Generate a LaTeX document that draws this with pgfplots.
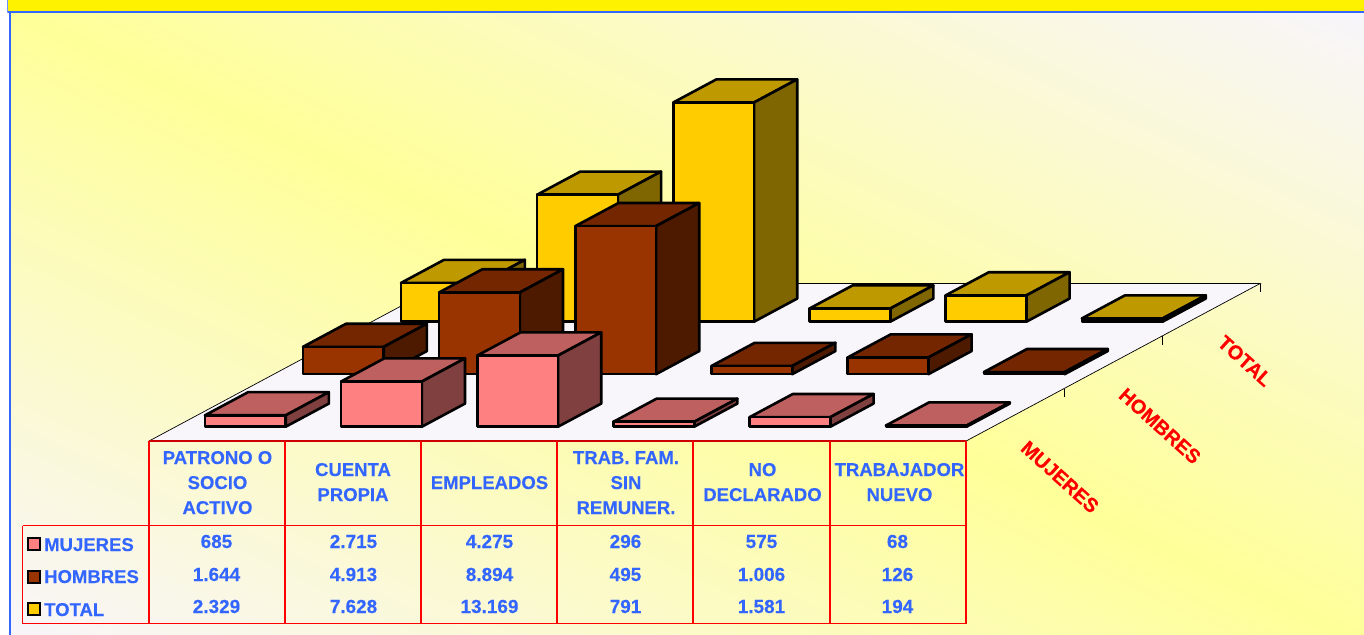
\documentclass[border=0pt]{standalone}
\usepackage{fontspec}
\setmainfont[BoldFeatures={FakeBold=0.25}]{Liberation Sans}
\usepackage{pgfplots}
\pgfplotsset{compat=1.18}
\definecolor{lav}{HTML}{F8F5FB}
\definecolor{pal}{HTML}{FFFF99}
\definecolor{tblue}{HTML}{3366FF}
\definecolor{mF}{HTML}{FF8080}\definecolor{mT}{HTML}{BF6060}\definecolor{mS}{HTML}{804040}
\definecolor{hF}{HTML}{993300}\definecolor{hT}{HTML}{732600}\definecolor{hS}{HTML}{4D1A00}
\definecolor{tF}{HTML}{FFCC00}\definecolor{tT}{HTML}{BF9900}\definecolor{tS}{HTML}{806600}
% \threedbar{x0}{x1}{y0}{y1}{value}{front}{top}{side}
\newcommand{\threedbar}[8]{%
  \addplot3[draw=black,line width=2.6bp,line join=round,fill=#7] coordinates {(#1,#3,#5) (#2,#3,#5) (#2,#4,#5) (#1,#4,#5)} --cycle;
  \addplot3[draw=black,line width=2.6bp,line join=round,fill=#8] coordinates {(#2,#3,0) (#2,#4,0) (#2,#4,#5) (#2,#3,#5)} --cycle;
  \addplot3[draw=black,line width=2.6bp,line join=round,fill=#6] coordinates {(#1,#3,0) (#2,#3,0) (#2,#3,#5) (#1,#3,#5)} --cycle;
}
\begin{document}
\begin{tikzpicture}[x=1bp,y=-1bp]
\useasboundingbox (0,0) rectangle (1364,635);
\fill[white] (0,0) rectangle (1364,635);
\begin{scope}
\clip (11,13) rectangle (1364,635);
\shade[bottom color=lav,top color=lav,middle color=pal,transform canvas={rotate around={-25:(682,324)}}] (-400,-246) rectangle (1764,894);
\end{scope}
\fill[yellow] (8,0) rectangle (1364,11);
\fill[tblue] (7,11) rectangle (1364,13.5);
\fill[tblue] (8.7,13) rectangle (11,635);
\fill[tblue!70] (7,0) rectangle (8,13);

\begin{axis}[at={(149.1bp,-441bp)},anchor=origin,
  x={(136.17bp,0bp)},y={(98bp,52.5bp)},z={(0bp,0.01665bp)},
  xmin=0,xmax=6,ymin=0,ymax=3,zmin=0,zmax=14000,
  hide axis,clip=false]
% floor
\addplot3[draw=black,line width=0.7bp,fill=lav] coordinates {(0,0,0) (6,0,0) (6,3,0) (0,3,0)} --cycle;
% ticks on the right edge
\addplot3[draw=black,line width=0.7bp] coordinates {(6,1,0) (6,1,-540)};
\addplot3[draw=black,line width=0.7bp] coordinates {(6,2,0) (6,2,-540)};
\addplot3[draw=black,line width=0.7bp] coordinates {(6,3,0) (6,3,-540)};
% TOTAL row
\threedbar{0.214}{0.807}{2.273}{2.713}{2329}{tF}{tT}{tS}
\threedbar{1.214}{1.807}{2.273}{2.713}{7628}{tF}{tT}{tS}
\threedbar{2.214}{2.807}{2.273}{2.713}{13169}{tF}{tT}{tS}
\threedbar{3.214}{3.807}{2.273}{2.713}{791}{tF}{tT}{tS}
\threedbar{4.214}{4.807}{2.273}{2.713}{1581}{tF}{tT}{tS}
\threedbar{5.214}{5.807}{2.273}{2.713}{194}{tF}{tT}{tS}
% HOMBRES row
\threedbar{0.214}{0.807}{1.273}{1.713}{1644}{hF}{hT}{hS}
\threedbar{1.214}{1.807}{1.273}{1.713}{4913}{hF}{hT}{hS}
\threedbar{2.214}{2.807}{1.273}{1.713}{8894}{hF}{hT}{hS}
\threedbar{3.214}{3.807}{1.273}{1.713}{495}{hF}{hT}{hS}
\threedbar{4.214}{4.807}{1.273}{1.713}{1006}{hF}{hT}{hS}
\threedbar{5.214}{5.807}{1.273}{1.713}{126}{hF}{hT}{hS}
% MUJERES row
\threedbar{0.214}{0.807}{0.273}{0.713}{685}{mF}{mT}{mS}
\threedbar{1.214}{1.807}{0.273}{0.713}{2715}{mF}{mT}{mS}
\threedbar{2.214}{2.807}{0.273}{0.713}{4275}{mF}{mT}{mS}
\threedbar{3.214}{3.807}{0.273}{0.713}{296}{mF}{mT}{mS}
\threedbar{4.214}{4.807}{0.273}{0.713}{575}{mF}{mT}{mS}
\threedbar{5.214}{5.807}{0.273}{0.713}{68}{mF}{mT}{mS}
\end{axis}

% data table
\draw[red!80!black,line width=1.2bp] (149,441) -- (966,441);
\draw[red,line width=1.1bp] (22.5,525.5) -- (966,525.5);
\draw[red,line width=1.1bp] (22.5,623.5) -- (966,623.5);
\draw[red,line width=1.1bp] (22.5,525.5) -- (22.5,623.5);
\foreach \x in {149,285,421,557,693,830,966}
  \draw[red,line width=1.1bp] (\x,441) -- (\x,623.5);

\tikzset{hd/.style={anchor=base,inner sep=0pt,text=tblue,font=\fontsize{18.6}{22}\selectfont\bfseries},
         dv/.style={anchor=base,inner sep=0pt,text=tblue,font=\fontsize{19}{22}\selectfont\bfseries},
         rl/.style={anchor=base west,inner sep=0pt,text=tblue,font=\fontsize{18.6}{22}\selectfont\bfseries},
         ax/.style={anchor=center,inner sep=0pt,text=red,rotate=-42,font=\fontsize{20}{22}\selectfont\bfseries}}
\node[hd] at (217.5,464) {PATRONO O};
\node[hd] at (217.5,489) {SOCIO};
\node[hd] at (217.5,514) {ACTIVO};
\node[hd] at (353,476) {CUENTA};
\node[hd] at (353,501) {PROPIA};
\node[hd] at (489.5,489) {EMPLEADOS};
\node[hd] at (626,464) {TRAB. FAM.};
\node[hd] at (626,489) {SIN};
\node[hd] at (626,514) {REMUNER.};
\node[hd] at (762.5,476) {NO};
\node[hd] at (762.5,501) {DECLARADO};
\node[hd] at (899.5,476) {TRABAJADOR};
\node[hd] at (899.5,501) {NUEVO};

\foreach \x/\a/\b/\c in {216.5/685/1.644/2.329,353.5/2.715/4.913/7.628,489.5/4.275/8.894/13.169,625.5/296/495/791,761.5/575/1.006/1.581,897.5/68/126/194}{
  \node[dv] at (\x,548) {\a};
  \node[dv] at (\x,581) {\b};
  \node[dv] at (\x,613) {\c};
}
\node[rl] at (44,551) {MUJERES};
\node[rl] at (44,583) {HOMBRES};
\node[rl] at (44,616) {TOTAL};
\draw[black,line width=2bp,fill=mF] (28,538) rectangle (40,550);
\draw[black,line width=2bp,fill=hF] (28,570.5) rectangle (40,582.5);
\draw[black,line width=2bp,fill=tF] (28,603) rectangle (40,615);

\node[ax] at (1060,477) {MUJERES};
\node[ax] at (1160,426) {HOMBRES};
\node[ax] at (1245,361) {TOTAL};
\end{tikzpicture}
\end{document}
